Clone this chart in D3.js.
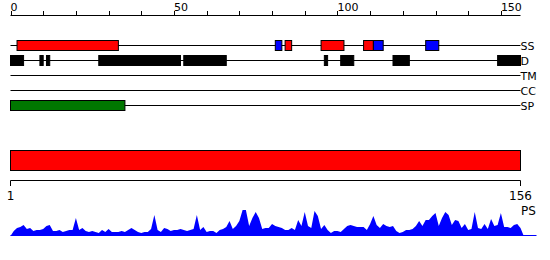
<!DOCTYPE html>
<html>
<head>
<meta charset="utf-8">
<script src="https://cdn.jsdelivr.net/npm/d3@7"></script>
<style>
  body { margin: 0; background: #fff; }
  text { font-family: "DejaVu Sans", sans-serif; font-size: 11px; fill: #000; }
</style>
</head>
<body>
<div id="chart"></div>
<script>
// sequence length and track names
const seqLength = 156
const trackNames = ["SS", "D", "TM", "CC", "SP"]
const topTicks = [0, 10, 20, 30, 40, 50, 60, 70, 80, 90, 100, 110, 120, 130, 140, 150]
const topTickLabels = [0, 50, 100, 150]

// secondary structure: [start, end, type]
const ssStarts = [2, 81, 84, 95, 108, 111, 127]
const ssEnds = [33, 83, 86, 102, 111, 114, 131]
const ssTypes = ["helix", "strand", "helix", "helix", "helix", "strand", "strand"]

// disordered regions
const disStarts = [0, 9, 11, 27, 53, 96, 101, 117, 149]
const disEnds = [4, 10, 12, 52, 66, 97, 105, 122, 156]

// signal peptide
const spStarts = [0]
const spEnds = [35]

// domain bar and bottom axis labels
const domainStarts = [0]
const domainEnds = [156]
const bottomLabels = [1, 156]

// PS profile, one value per residue 1..156
const psScores = [
  5, 8, 9, 11, 7, 8, 5, 6, 6, 7, 10, 11, 5, 5, 6, 4, 5, 6, 6, 18,
  6, 8, 5, 4, 5, 4, 3, 6, 4, 7, 4, 4, 4, 5, 4, 6, 8, 6, 4, 3,
  4, 4, 7, 21, 6, 4, 8, 7, 5, 6, 6, 7, 6, 5, 6, 7, 21, 6, 9, 4,
  5, 5, 3, 6, 7, 9, 15, 7, 10, 15, 26, 26, 10, 18, 24, 18, 7, 8, 8, 12,
  10, 9, 8, 6, 6, 8, 6, 16, 10, 24, 10, 8, 25, 20, 7, 11, 6, 3, 5, 5,
  4, 7, 10, 11, 10, 9, 9, 9, 6, 12, 20, 11, 8, 12, 10, 9, 10, 5, 3, 4,
  6, 6, 7, 10, 15, 10, 16, 16, 20, 23, 10, 18, 24, 21, 11, 16, 15, 8, 12, 6,
  7, 24, 8, 7, 12, 7, 17, 10, 11, 23, 9, 9, 8, 11, 12, 8
]

const colors = { helix: "#ff0000", strand: "#0000ff", dis: "#000000", sp: "#007700", domain: "#ff0000", ps: "#0000ff" }

const width = 550
const height = 260

const svg = d3.select("#chart").append("svg")
    .attr("width", width)
    .attr("height", height)

const x = d3.scaleLinear().domain([0, seqLength]).range([10.5, 520.5])

const trackY = d3.scalePoint().domain(trackNames).range([45, 105])

// top ruler
const topAxis = svg.append("g")
topAxis.append("line")
    .attr("x1", x(0)).attr("x2", x(seqLength))
    .attr("y1", 15.5).attr("y2", 15.5)
    .attr("stroke", "#000")
topAxis.selectAll(".tick").data(topTicks).enter().append("line")
    .attr("x1", d => Math.round(x(d)) + 0.5).attr("x2", d => Math.round(x(d)) + 0.5)
    .attr("y1", 11).attr("y2", 15.5)
    .attr("stroke", "#000")
topAxis.selectAll(".lbl").data(topTickLabels).enter().append("text")
    .attr("x", d => x(d))
    .attr("y", 11)
    .text(d => d)

// track lines and names
svg.selectAll(".track").data(trackNames).enter().append("line")
    .attr("x1", x(0)).attr("x2", x(seqLength))
    .attr("y1", d => trackY(d) + 0.5).attr("y2", d => trackY(d) + 0.5)
    .attr("stroke", "#000")

svg.selectAll(".trackName").data(trackNames).enter().append("text")
    .attr("x", x(seqLength))
    .attr("y", d => trackY(d) + 4.5)
    .text(d => d)

function drawBoxes(starts, ends, track, fill, h) {
    svg.append("g").selectAll("rect").data(starts).enter().append("rect")
        .attr("x", (d, i) => x(d))
        .attr("width", (d, i) => x(ends[i]) - x(d))
        .attr("y", trackY(track) - h / 2 + 0.5)
        .attr("height", h)
        .attr("fill", (d, i) => typeof fill === "function" ? fill(i) : fill)
        .attr("stroke", "#000")
        .attr("stroke-width", 1)
}

drawBoxes(ssStarts, ssEnds, "SS", i => colors[ssTypes[i]], 10)
drawBoxes(disStarts, disEnds, "D", colors.dis, 10)
drawBoxes(spStarts, spEnds, "SP", colors.sp, 10)

// domain bar
svg.append("g").selectAll("rect").data(domainStarts).enter().append("rect")
    .attr("x", d => x(d))
    .attr("width", (d, i) => x(domainEnds[i]) - x(d))
    .attr("y", 150.5)
    .attr("height", 20)
    .attr("fill", colors.domain)
    .attr("stroke", "#000")

// bottom ruler
const bottomAxis = svg.append("g")
bottomAxis.append("line")
    .attr("x1", x(0)).attr("x2", x(seqLength))
    .attr("y1", 180.5).attr("y2", 180.5)
    .attr("stroke", "#000")
bottomAxis.selectAll(".tick").data([0, seqLength]).enter().append("line")
    .attr("x1", d => x(d)).attr("x2", d => x(d))
    .attr("y1", 180.5).attr("y2", 186)
    .attr("stroke", "#000")
bottomAxis.selectAll(".lbl").data(bottomLabels).enter().append("text")
    .attr("x", (d, i) => i === 0 ? x(0) : x(seqLength))
    .attr("y", 200)
    .attr("text-anchor", "middle")
    .style("font-size", "12px")
    .text(d => d)

svg.append("text")
    .attr("x", 521)
    .attr("y", 215)
    .style("font-size", "12px")
    .text("PS")

// PS profile
const y = d3.scaleLinear().domain([0, 30]).range([236, 206])
const psPoints = [[0, 0]].concat(psScores.map((v, i) => [i + 1, v]), [[seqLength + 1, 0]])

svg.append("path")
    .datum(psPoints)
    .attr("fill", colors.ps)
    .attr("d", d3.area().x(d => x(d[0])).y0(y(0)).y1(d => y(d[1])))

svg.append("line")
    .attr("x1", x(0)).attr("x2", x(seqLength) + 16)
    .attr("y1", 235.5).attr("y2", 235.5)
    .attr("stroke", colors.ps)
</script>
</body>
</html>
